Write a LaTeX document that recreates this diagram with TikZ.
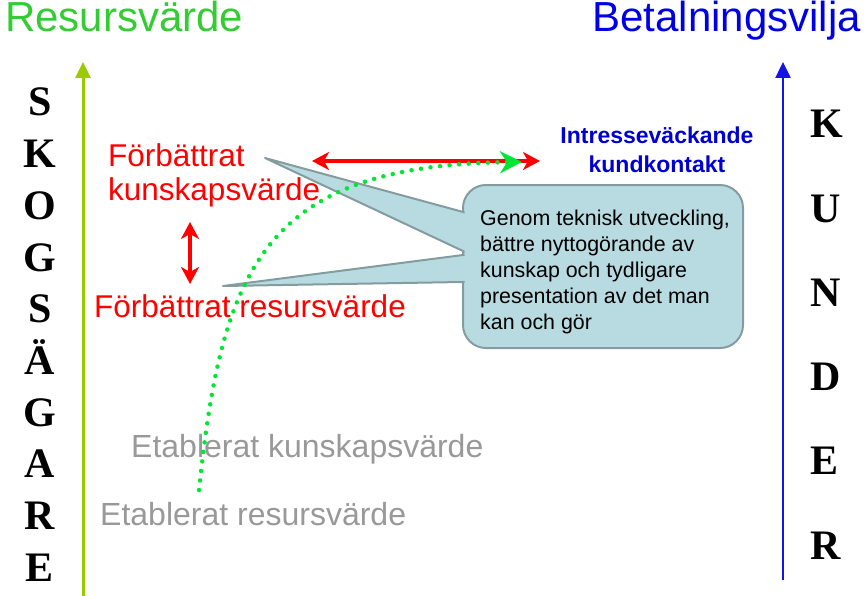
\documentclass[tikz,border=0pt]{standalone}
\usepackage{fontspec}
\setmainfont{Liberation Serif}
\setsansfont{Liberation Sans}
\usepackage{xcolor}
\usepackage{tikz}
\usetikzlibrary{arrows.meta}

\definecolor{resgreen}{RGB}{51,204,51}
\definecolor{betblue}{RGB}{0,0,230}
\definecolor{axisgreen}{RGB}{153,204,0}
\definecolor{axisblue}{RGB}{20,20,230}
\definecolor{dotgreen}{RGB}{0,230,50}
\definecolor{boxfill}{RGB}{183,219,224}
\definecolor{boxline}{RGB}{132,156,160}
\definecolor{graytext}{RGB}{153,153,153}
\definecolor{kundblue}{RGB}{0,0,210}

\begin{document}
\begin{tikzpicture}[x=1pt,y=-1pt,
    letter/.style={font=\rmfamily\bfseries\fontsize{42}{42}\selectfont, inner sep=0pt},
    title/.style={font=\sffamily\fontsize{42}{42}\selectfont, inner sep=0pt},
    redlabel/.style={font=\sffamily\fontsize{31.5}{33}\selectfont, text=red, inner sep=0pt, align=left},
    graylabel/.style={font=\sffamily\fontsize{32}{34}\selectfont, text=graytext, inner sep=0pt},
    redarrow/.style={red, line width=3.8pt, {Stealth[length=17pt,width=18pt,inset=5pt]}-{Stealth[length=17pt,width=18pt,inset=5pt]}}
  ]
            \useasboundingbox (0,0) rectangle (866,596);

            % callout with two pointers
            \filldraw[fill=boxfill, draw=boxline, line width=2pt, rounded corners=23pt] (463,185) rectangle (743,348);
            \filldraw[fill=boxfill, draw=boxline, line width=2pt, line join=round] (480,216.6) -- (265,158) -- (480,259) -- cycle;
            \filldraw[fill=boxfill, draw=boxline, line width=2pt, line join=round] (480,252.8) -- (223,286) -- (480,281.7) -- cycle;
            \fill[boxfill, rounded corners=21.5pt] (464.5,186.5) rectangle (741.5,346.5);
            % (base of a multi-line node = last line)
            \node[font=\sffamily\fontsize{21.4}{26}\selectfont, align=left, inner sep=0pt, anchor=base west] (info) at (480,329)
              {Genom teknisk utveckling,\\bättre nyttogörande av\\kunskap och tydligare\\presentation av det man\\kan och gör};

            % titles
            \node[title, text=resgreen, anchor=base west] (res) at (5,32) {Resursvärde};
            \node[title, text=betblue, anchor=base east] (bet) at (861,32) {Betalningsvilja};

            % axes
            \coordinate (gb) at (83,596);
            \coordinate (gt) at (83,62);
            \coordinate (bb) at (783,580);
            \coordinate (bt) at (783,62);
            \draw[axisgreen, line width=3pt, -{Triangle[length=16pt,width=15pt]}] (gb) -- (gt);
            \draw[axisblue, line width=2.5pt, -{Triangle[length=16pt,width=15pt]}] (bb) -- (bt);

            % letters
            \foreach \l [count=\i] in {S,K,O,G,S,Ä,G,A,R,E} {
              \node[letter, anchor=base] (s\i) at (40,{116+51.7*(\i-1)}) {\l};
            }
            \foreach \l [count=\i] in {K,U,N,D,E,R} {
              \node[letter, anchor=base west] (k\i) at (810,{138+84.2*(\i-1)}) {\l};
            }

            % labels
            \node[redlabel, anchor=base west] (fk) at (108,200) {Förbättrat\\kunskapsvärde};
            \node[redlabel, anchor=base west] (fr) at (94,317) {Förbättrat resursvärde};
            \node[font=\sffamily\bfseries\fontsize{23}{29}\selectfont, text=kundblue, align=center, inner sep=0pt, anchor=base] (ik) at (657,172)
              {Intresseväckande\\kundkontakt};
            \node[graylabel, anchor=base west] (ek) at (131,457) {Etablerat kunskapsvärde};
            \node[graylabel, anchor=base west] (er) at (100,525) {Etablerat resursvärde};

            % red arrows
            \coordinate (hl) at (312,161);
            \coordinate (hr) at (540,161);
            \coordinate (vt) at (190,222);
            \coordinate (vb) at (190,284);
            \draw[redarrow] (hl) -- (hr);
            \draw[redarrow] (vt) -- (vb);

            % green dotted curve
            \coordinate (cs) at (199,490);
            \coordinate (ce) at (522,162);
            \draw[dotgreen, line width=4.5pt, line cap=round, dash pattern=on 0pt off 9.6pt,
                  -{Stealth[length=22pt,width=22pt,inset=7pt]}]
              (cs) .. controls (222,270) and (262,165) .. (ce);
        \end{tikzpicture}
\end{document}
